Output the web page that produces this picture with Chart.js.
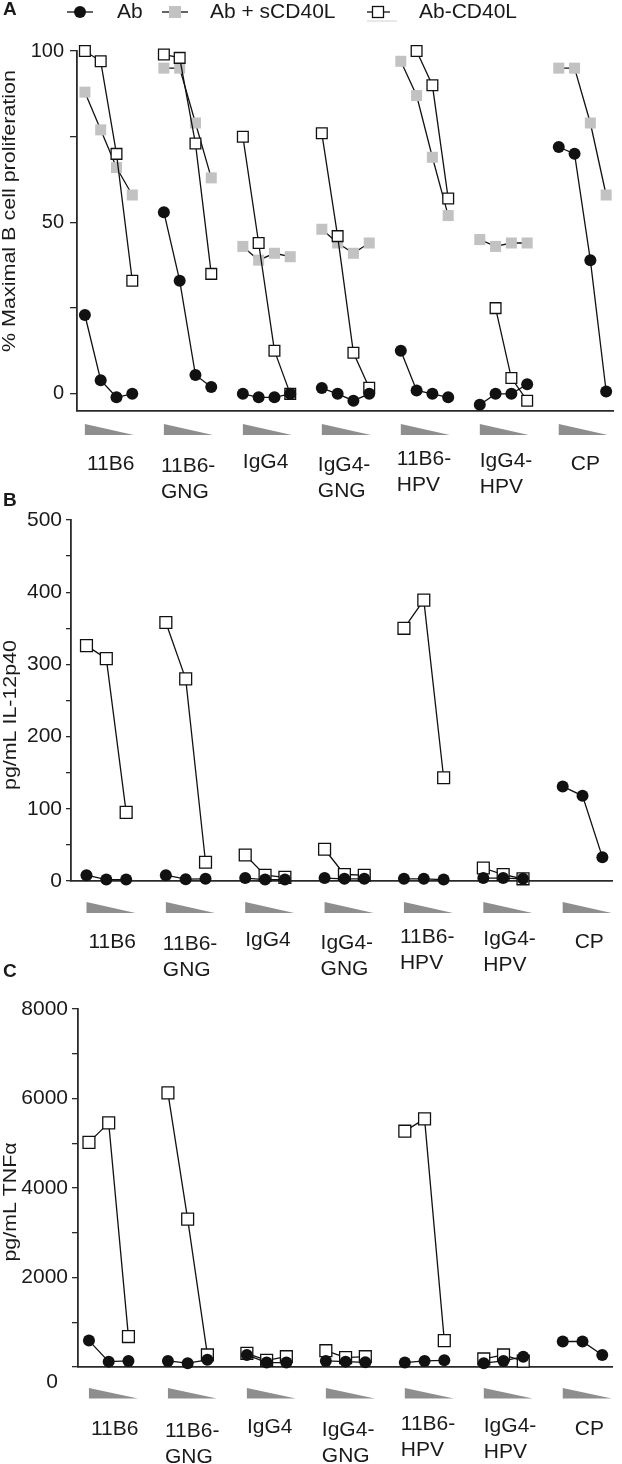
<!DOCTYPE html>
<html>
<head>
<meta charset="utf-8">
<script src="https://cdn.jsdelivr.net/npm/chart.js@4.4.0/dist/chart.umd.min.js"></script>
<style>
  body { margin: 0; background: #fff; }
  #wrap { position: relative; width: 622px; height: 1464px; }
  .panel { position: absolute; left: 0; width: 622px; }
</style>
</head>
<body>
<div id="wrap">
  <div class="panel" style="top:0;height:505px"><canvas id="chartA"></canvas></div>
  <div class="panel" style="top:490px;height:495px"><canvas id="chartB"></canvas></div>
  <div class="panel" style="top:955px;height:509px"><canvas id="chartC"></canvas></div>
</div>
<script>
// groups along the x axis, each with decreasing antibody doses
const groups = ['11B6', '11B6-GNG', 'IgG4', 'IgG4-GNG', '11B6-HPV', 'IgG4-HPV', 'CP'];
const groupLines = [['11B6'], ['11B6-', 'GNG'], ['IgG4'], ['IgG4-', 'GNG'], ['11B6-', 'HPV'], ['IgG4-', 'HPV'], ['CP']];
const seriesNames = ['Ab', 'Ab + sCD40L', 'Ab-CD40L'];

// A: % maximal B cell proliferation (4 doses per group)
const prolifAb = [[23, 4, -1, 0], [53, 33, 5.5, 2], [0, -1, -1, 0], [1.7, 0, -2, 0], [12.6, 1, 0, -1], [-3.2, 0, 0, 2.8], [72, 70, 39, 0.7]];
const prolifSCD40L = [[88, 77, 66, 58], [95, 95, 79, 63], [43, 39, 41, 40], [48, 44, 41, 44], [97, 87, 69, 52], [45, 43, 44, 44], [95, 95, 79, 58]];
const prolifAbCD40L = [[100, 97, 70, 33], [99, 98, 73, 35], [75, 44, 12.6, 0], [76, 46, 12, 1.8], [null, 100, 90, 57], [null, 25, 4.6, -2], [null, null, null, null]];

// B: pg/mL IL-12p40 (3 doses per group)
const il12Ab = [[8, 2, 2], [8, 2.5, 3], [4, 2, 2], [4, 3, 3], [3, 3, 2], [4, 4, 3], [131, 118, 33]];
const il12AbCD40L = [[326, 308, 95], [358, 280, 26], [36, 8, 5], [44, 9, 8], [350, 389, 143], [18, 9, 3], [null, null, null]];

// C: pg/mL TNFα (3 doses per group)
const tnfAb = [[590, 120, 135], [135, 85, 160], [270, 100, 100], [135, 120, 105], [100, 135, 150], [85, 135, 230], [570, 570, 270]];
const tnfAbCD40L = [[5020, 5455, 680], [6125, 3305, 270], [305, 150, 230], [365, 210, 230], [5270, 5545, 590], [180, 270, 130], [null, null, null]];

// axis ticks
const ticksA = [0, 25, 50, 75, 100];
const tickLabelsA = [0, 50, 100];
const ticksB = [0, 50, 100, 150, 200, 250, 300, 350, 400, 450, 500];
const tickLabelsB = [0, 100, 200, 300, 400, 500];
const ticksC = [0, 1000, 2000, 3000, 4000, 5000, 6000, 7000, 8000];
const tickLabelsC = [2000, 4000, 6000, 8000];

const FONT = 'Liberation Sans, Arial, Helvetica, sans-serif';
const INK = '#1a1a1a';
const labelDx = [2, -3, 0, -4, -4, 0, 12];
const labelDy = [0, 2, -2, 1, -5, -3, 0];

// flatten group arrays into x/y points with a gap after each group
function toPoints(groupVals) {
    const stride = groupVals[0].length + 1;
    const pts = [];
    groupVals.forEach((vals, g) => {
        vals.forEach((v, i) => pts.push({ x: g * stride + i, y: v }));
        pts.push({ x: g * stride + vals.length, y: null });
    });
    return pts;
}

function series(vals, kind, size) {
    const base = {
        data: toPoints(vals), borderColor: '#111', borderWidth: 1.3,
        tension: 0, spanGaps: false, clip: false
    };
    if (kind === 'ab') {
        return Object.assign(base, { label: seriesNames[0], pointStyle: 'circle', pointRadius: 6,
            pointBackgroundColor: '#111', pointBorderColor: '#111', pointBorderWidth: 0 });
    }
    if (kind === 'grey') {
        return Object.assign(base, { label: seriesNames[1], pointStyle: 'rect', pointRadius: size,
            pointBackgroundColor: '#c2c2c2', pointBorderColor: '#c2c2c2', pointBorderWidth: 0 });
    }
    return Object.assign(base, { label: seriesNames[2], pointStyle: 'rect', pointRadius: size,
        pointBackgroundColor: '#fff', pointBorderColor: '#111', pointBorderWidth: 1.3 });
}

// extra drawing: panel letter, rotated title, dose wedges, group names, legend
const decorPlugin = {
    id: 'decor',
    afterDraw(chart, args, o) {
        const ctx = chart.ctx;
        const xs = chart.scales.x;
        const base = chart.chartArea.bottom;
        const stride = o.stride;
        ctx.save();
        ctx.fillStyle = INK;

        // panel letter
        ctx.font = 'bold 19px ' + FONT;
        ctx.textAlign = 'left';
        ctx.textBaseline = 'middle';
        ctx.fillText(o.letter, 3, o.letterY);

        // y title, stretched along its length like the figure
        ctx.save();
        ctx.font = '18px ' + FONT;
        ctx.translate(o.titleX, o.titleY);
        ctx.rotate(-Math.PI / 2);
        const k = o.titleLen / ctx.measureText(o.title).width;
        ctx.scale(k, 1);
        ctx.textAlign = 'center';
        ctx.fillText(o.title, 0, 0);
        ctx.restore();

        // wedges and group labels
        ctx.font = '21px ' + FONT;
        ctx.textBaseline = 'alphabetic';
        groups.forEach((name, g) => {
            const px = xs.getPixelForValue(g * stride);
            const top = base + o.triGap;
            ctx.fillStyle = '#8e8e8e';
            ctx.beginPath();
            ctx.moveTo(px, top);
            ctx.lineTo(px + 49, top + o.triH);
            ctx.lineTo(px, top + o.triH);
            ctx.closePath();
            ctx.fill();
            ctx.fillStyle = INK;
            groupLines[g].forEach((line, li) => {
                ctx.fillText(line, px + labelDx[g], base + o.labelBase + labelDy[g] + li * 26);
            });
        });

        if (o.zeroLabel) {
            ctx.font = '21px ' + FONT;
            ctx.textAlign = 'right';
            ctx.textBaseline = 'middle';
            ctx.fillText('0', 58, base + 15);
        }

        if (o.legend) {
            const items = [
                { x0: 67, x1: 93, mx: 80, tx: 117, kind: 'ab' },
                { x0: 162, x1: 188, mx: 175, tx: 210, kind: 'grey' },
                { x0: 367, x1: 390, mx: 378, tx: 419, kind: 'open' }
            ];
            const y = 12;
            items.forEach((it, i) => {
                ctx.strokeStyle = '#111';
                ctx.lineWidth = 1.3;
                ctx.beginPath();
                ctx.moveTo(it.x0, y);
                ctx.lineTo(it.x1, y);
                ctx.stroke();
                if (it.kind === 'ab') {
                    ctx.fillStyle = '#111';
                    ctx.beginPath();
                    ctx.arc(it.mx, y, 6, 0, Math.PI * 2);
                    ctx.fill();
                } else if (it.kind === 'grey') {
                    ctx.fillStyle = '#c2c2c2';
                    ctx.fillRect(it.mx - 6, y - 6, 12, 12);
                } else {
                    ctx.fillStyle = '#fff';
                    ctx.fillRect(it.mx - 5.5, y - 5.5, 11, 11);
                    ctx.strokeRect(it.mx - 5.5, y - 5.5, 11, 11);
                    ctx.strokeStyle = '#d0d0d0';
                    ctx.lineWidth = 1;
                    ctx.beginPath();
                    ctx.moveTo(it.x0, y + 9);
                    ctx.lineTo(it.x1 + 7, y + 9);
                    ctx.stroke();
                }
                ctx.fillStyle = INK;
                ctx.font = '21px ' + FONT;
                ctx.textAlign = 'left';
                ctx.textBaseline = 'middle';
                ctx.fillText(seriesNames[i], it.tx, y);
            });
        }
        ctx.restore();
    }
};

function makeChart(id, p) {
    return new Chart(document.getElementById(id).getContext('2d'), {
        type: 'line',
        data: { datasets: p.datasets },
        options: {
            responsive: true,
            maintainAspectRatio: false,
            animation: false,
            events: [],
            layout: { padding: { top: p.padTop, right: p.padRight, left: 0, bottom: 0 } },
            plugins: { legend: { display: false }, tooltip: { enabled: false }, decor: p.decor },
            scales: {
                x: {
                    type: 'linear', min: p.xMin, max: p.xMax,
                    afterFit: s => { s.height = p.xHeight; },
                    ticks: { display: false },
                    grid: { display: false },
                    border: { color: '#2a2a2a', width: 1.8 }
                },
                y: {
                    min: p.yMin, max: p.yMax,
                    afterFit: s => { s.width = p.yWidth; },
                    afterBuildTicks: s => { s.ticks = p.ticks.map(v => ({ value: v })); },
                    ticks: {
                        callback: v => p.tickLabels.includes(v) ? String(v) : '',
                        font: { family: FONT, size: p.tickSize }, color: INK, padding: p.tickPad
                    },
                    grid: { drawOnChartArea: false, drawTicks: true, tickLength: p.tickLen, color: '#2a2a2a', lineWidth: 1.3 },
                    border: { color: '#2a2a2a', width: 1.8 }
                }
            }
        },
        plugins: [decorPlugin]
    });
}

document.addEventListener('DOMContentLoaded', function () {
    makeChart('chartA', {
        datasets: [series(prolifAb, 'ab'), series(prolifAbCD40L, 'open', 7.6), series(prolifSCD40L, 'grey', 7.8)],
        padTop: 51, padRight: 4, xHeight: 94, yWidth: 77,
        xMin: -0.5, xMax: 33.44, yMin: -5, yMax: 100,
        ticks: ticksA, tickLabels: tickLabelsA, tickSize: 20, tickPad: 6, tickLen: 7,
        decor: { stride: 5, letter: 'A', letterY: 10, title: '% Maximal B cell proliferation',
                 titleX: 10, titleY: 211, titleLen: 282, triGap: 13, triH: 11, labelBase: 59, legend: true }
    });

    makeChart('chartB', {
        datasets: [series(il12Ab, 'ab'), series(il12AbCD40L, 'open', 8.4)],
        padTop: 30, padRight: 4, xHeight: 104, yWidth: 71,
        xMin: -0.78, xMax: 26.5, yMin: 0, yMax: 500,
        ticks: ticksB, tickLabels: tickLabelsB, tickSize: 21, tickPad: 4, tickLen: 5,
        decor: { stride: 4, letter: 'B', letterY: 11, title: 'pg/mL IL-12p40',
                 titleX: 11, titleY: 225, titleLen: 150, triGap: 21, triH: 11, labelBase: 67 }
    });

    makeChart('chartC', {
        datasets: [series(tnfAb, 'ab'), series(tnfAbCD40L, 'open', 8.4)],
        padTop: 54, padRight: 7, xHeight: 97, yWidth: 78,
        xMin: -0.555, xMax: 26.51, yMin: 0, yMax: 8000,
        ticks: ticksC, tickLabels: tickLabelsC, tickSize: 21, tickPad: 4, tickLen: 6,
        decor: { stride: 4, letter: 'C', letterY: 17, title: 'pg/mL TNFα',
                 titleX: 11, titleY: 247, titleLen: 119, triGap: 21, triH: 10.5, labelBase: 68, zeroLabel: true }
    });
});
</script>
</body>
</html>
